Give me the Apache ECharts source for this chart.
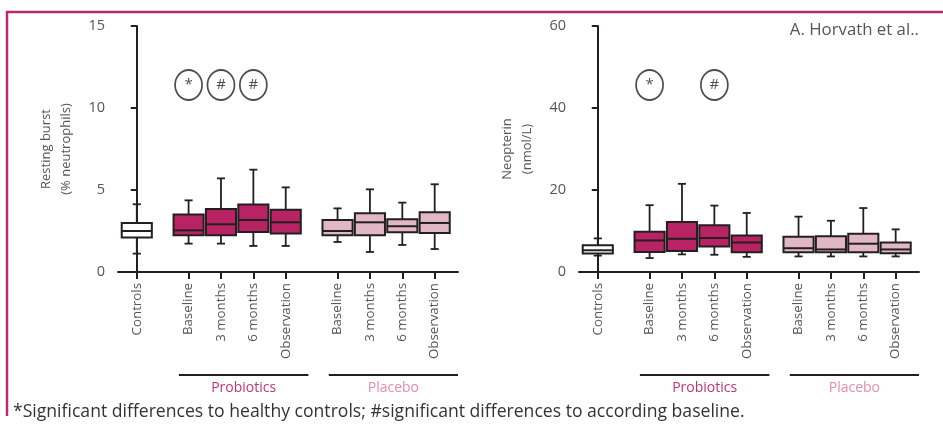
<!DOCTYPE html>
<html>
<head>
<meta charset="utf-8">
<script src="https://cdn.jsdelivr.net/npm/echarts@6/dist/echarts.min.js"></script>
<style>
html,body{margin:0;padding:0;background:#fff;}
#c{width:943px;height:424px;}
</style>
</head>
<body>
<div id="c"></div>
<script>
// ---- data ----
const categories = ['Controls','Baseline','3 months','6 months','Observation','Baseline','3 months','6 months','Observation'];
const catPos = [0, 1.6, 2.6, 3.6, 4.6, 6.2, 7.2, 8.2, 9.2];
const groups = ['Controls','Probiotics','Probiotics','Probiotics','Probiotics','Placebo','Placebo','Placebo','Placebo'];
// [min, Q1, median, Q3, max]
const burstBoxes = [
  [1.12, 2.10, 2.50, 2.99, 4.13],
  [1.73, 2.24, 2.54, 3.50, 4.37],
  [1.73, 2.24, 2.91, 3.84, 5.71],
  [1.59, 2.44, 3.17, 4.11, 6.24],
  [1.59, 2.34, 3.03, 3.80, 5.16],
  [1.83, 2.24, 2.50, 3.17, 3.88],
  [1.22, 2.24, 3.03, 3.58, 5.04],
  [1.65, 2.42, 2.79, 3.21, 4.23],
  [1.40, 2.38, 2.99, 3.64, 5.35]
];
const neopterinBoxes = [
  [4.0, 4.5, 5.3, 6.5, 8.2],
  [3.4, 4.9, 7.7, 9.8, 16.3],
  [4.3, 5.1, 8.1, 12.2, 21.5],
  [4.2, 6.2, 8.3, 11.4, 16.2],
  [3.7, 4.8, 7.2, 8.9, 14.4],
  [3.8, 4.8, 5.8, 8.6, 13.5],
  [3.8, 4.8, 5.5, 8.7, 12.5],
  [3.8, 4.8, 6.9, 9.3, 15.6],
  [3.8, 4.6, 5.5, 7.2, 10.4]
];
// significance markers: [symbol, category index]
const burstMarks = [['*', 1], ['#', 2], ['#', 3]];
const neopterinMarks = [['*', 1], ['#', 3]];
const burstMarkLevel = 11.4;
const neopterinMarkLevel = 45.6;
const burstTicks = [0, 5, 10, 15];
const neopterinTicks = [0, 20, 40, 60];
const groupLabels = ['Probiotics', 'Placebo'];
const footnote = '*Significant differences to healthy controls; #significant differences to according baseline.';
const credit = 'A. Horvath et al..';

// ---- styling ----
const FONT = '"Open Sans", "Noto Sans", sans-serif';
const colors = { Controls: '#ffffff', Probiotics: '#b82463', Placebo: '#e2b7c4' };
const groupTextColors = { Probiotics: '#c2346f', Placebo: '#e38cad' };
const DARK = '#231f20';

const chart = echarts.init(document.getElementById('c'), null, { renderer: 'canvas' });

function renderBox(params, api) {
  const x = api.value(0);
  const p = [1,2,3,4,5].map(i => api.coord([x, api.value(i)]));
  const half = api.size([0.93, 0])[0] / 2;
  const cap = api.size([0.25, 0])[0] / 2;
  const cx = p[0][0];
  const fill = api.value(6) === 0 ? colors.Controls : (api.value(6) === 1 ? colors.Probiotics : colors.Placebo);
  const lineStyle = { stroke: DARK, lineWidth: 1.8 };
  return {
    type: 'group',
    children: [
      { type: 'line', shape: { x1: cx, y1: p[4][1], x2: cx, y2: p[3][1] }, style: lineStyle },
      { type: 'line', shape: { x1: cx, y1: p[0][1], x2: cx, y2: p[1][1] }, style: lineStyle },
      { type: 'line', shape: { x1: cx - cap, y1: p[4][1], x2: cx + cap, y2: p[4][1] }, style: lineStyle },
      { type: 'line', shape: { x1: cx - cap, y1: p[0][1], x2: cx + cap, y2: p[0][1] }, style: lineStyle },
      { type: 'rect', shape: { x: cx - half, y: p[3][1], width: half * 2, height: p[1][1] - p[3][1] },
        style: { fill: fill, stroke: DARK, lineWidth: 2 } },
      { type: 'line', shape: { x1: cx - half, y1: p[2][1], x2: cx + half, y2: p[2][1] }, style: { stroke: DARK, lineWidth: 2 } }
    ]
  };
}

function boxData(boxes) {
  const gIdx = { Controls: 0, Probiotics: 1, Placebo: 2 };
  return boxes.map((b, i) => [catPos[i]].concat(b).concat([gIdx[groups[i]]]));
}
function markData(marks, level) {
  return marks.map(m => ({ value: [catPos[m[1]], level], name: m[0] }));
}

function xAxisCfg(gridIndex) {
  return {
    type: 'value', gridIndex: gridIndex, min: -0.58, max: 9.92,
    splitLine: { show: false },
    axisLine: { show: true, onZero: false, lineStyle: { color: DARK, width: 2 } },
    axisTick: { show: true, customValues: catPos, length: 7, lineStyle: { color: DARK, width: 2 } },
    axisLabel: {
      customValues: catPos, rotate: 90, margin: 11, color: '#555', fontSize: 13.3, fontFamily: FONT,
      formatter: v => { const i = catPos.findIndex(c => Math.abs(c - v) < 1e-6); return i >= 0 ? categories[i] : ''; }
    }
  };
}
function yAxisCfg(gridIndex, ticks, name) {
  return {
    type: 'value', gridIndex: gridIndex, min: ticks[0], max: ticks[ticks.length - 1],
    interval: ticks[1] - ticks[0],
    name: name, nameLocation: 'middle', nameRotate: 90, nameGap: 42,
    nameTextStyle: { color: '#555', fontSize: 13, fontFamily: FONT, lineHeight: 20 },
    splitLine: { show: false },
    axisLine: { show: true, lineStyle: { color: DARK, width: 2 } },
    axisTick: { show: true, length: 6, lineStyle: { color: DARK, width: 2 } },
    axisLabel: { color: '#555', fontSize: 14.5, fontFamily: FONT, margin: 13 }
  };
}
function markSeries(idx, marks, level) {
  return {
    type: 'scatter', xAxisIndex: idx, yAxisIndex: idx, z: 5,
    symbol: 'circle', symbolSize: [27, 30],
    itemStyle: { color: '#fff', borderColor: DARK, borderWidth: 1.8 },
    label: { show: true, position: 'inside', formatter: p => p.name, color: DARK, fontSize: 15, fontFamily: FONT },
    data: markData(marks, level), silent: true
  };
}

const option = {
  animation: false,
  backgroundColor: '#fff',
  grid: [
    { left: 118, top: 26, width: 340, height: 246 },
    { left: 579, top: 26, width: 340, height: 246 }
  ],
  xAxis: [xAxisCfg(0), xAxisCfg(1)],
  yAxis: [
    yAxisCfg(0, burstTicks, 'Resting burst\n(% neutrophils)'),
    yAxisCfg(1, neopterinTicks, 'Neopterin\n(nmol/L)')
  ],
  series: [
    { type: 'custom', xAxisIndex: 0, yAxisIndex: 0, renderItem: renderBox, data: boxData(burstBoxes), clip: false },
    { type: 'custom', xAxisIndex: 1, yAxisIndex: 1, renderItem: renderBox, data: boxData(neopterinBoxes), clip: false },
    markSeries(0, burstMarks, burstMarkLevel),
    markSeries(1, neopterinMarks, neopterinMarkLevel)
  ]
};
chart.setOption(option);

// group brackets beneath the axes, positioned through the axis scales
const graphics = [];
[0, 1].forEach(g => {
  const spans = [
    ['Probiotics', catPos[1] - 0.3, catPos[4] + 0.7],
    ['Placebo', catPos[5] - 0.27, 9.92]
  ];
  spans.forEach(s => {
    const a = chart.convertToPixel({ gridIndex: g }, [s[1], 0]);
    const b = chart.convertToPixel({ gridIndex: g }, [s[2], 0]);
    const y = a[1] + 103;
    graphics.push({ type: 'line', shape: { x1: a[0], y1: y, x2: b[0], y2: y }, style: { stroke: DARK, lineWidth: 2 } });
    graphics.push({ type: 'text', x: (a[0] + b[0]) / 2, y: y + 13,
      style: { text: s[0], fill: groupTextColors[s[0]], font: '14px ' + FONT, textAlign: 'center', textVerticalAlign: 'middle' } });
  });
});
graphics.push({ type: 'polyline', shape: { points: [[7, 416], [7, 12], [950, 12]] },
  style: { stroke: '#b8296d', lineWidth: 2.5, fill: null } });
graphics.push({ type: 'text', x: 13, y: 412,
  style: { text: footnote, fill: '#333', font: '17.6px ' + FONT, textVerticalAlign: 'middle' } });
graphics.push({ type: 'text', x: 919, y: 30,
  style: { text: credit, fill: '#555', font: '16.8px ' + FONT, textAlign: 'right', textVerticalAlign: 'middle' } });
chart.setOption({ graphic: graphics });
</script>
</body>
</html>
